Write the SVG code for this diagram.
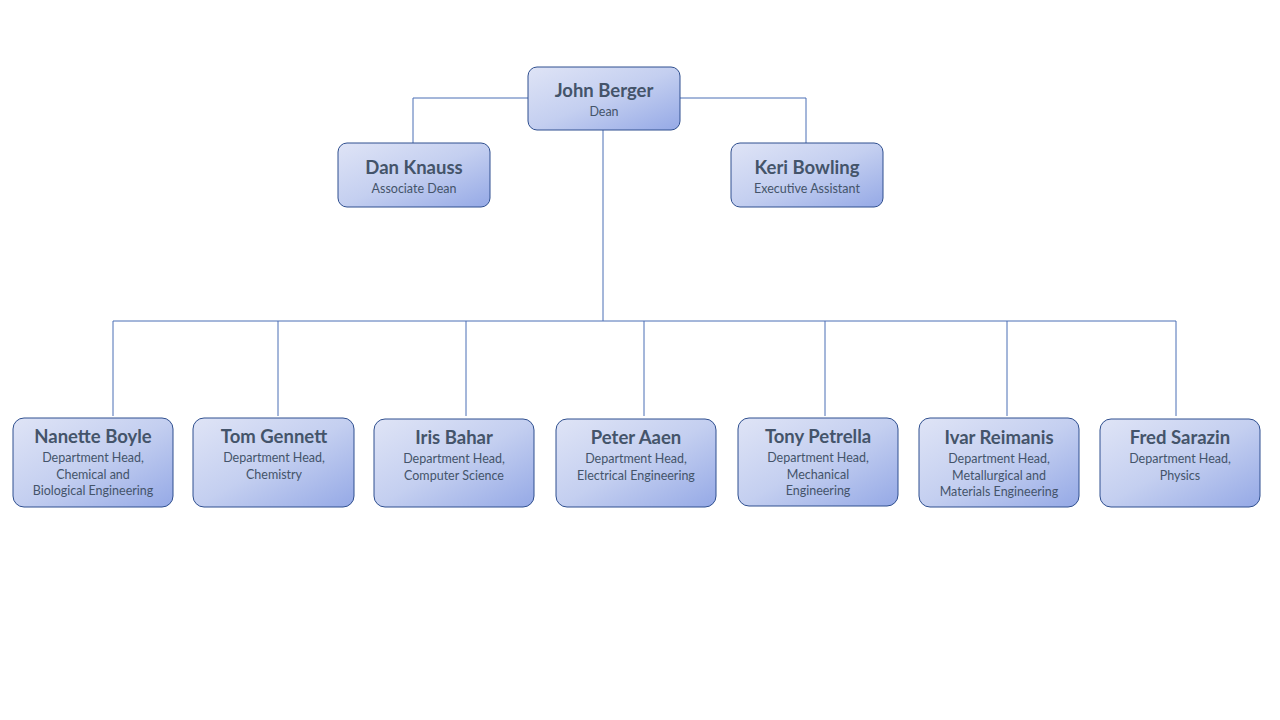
<svg xmlns="http://www.w3.org/2000/svg" width="1280" height="720" viewBox="0 0 1280 720">
<defs>
<linearGradient id="g" x1="0" y1="0" x2="1" y2="1">
<stop offset="0" stop-color="#dfe4f6"/><stop offset="0.5" stop-color="#c4cff0"/><stop offset="1" stop-color="#95a9e6"/>
</linearGradient>
</defs>
<style>
.b{fill:url(#g);stroke:#2f4f8f;stroke-width:1}
.n{font-family:Lato,"Open Sans",sans-serif;font-weight:bold;font-size:18.5px;fill:#44546a;text-anchor:middle}
.s{font-family:Lato,"Open Sans",sans-serif;font-size:12.5px;fill:#44546a;text-anchor:middle}
.c{stroke:#4a6fb5;stroke-width:1;fill:none}
</style>
<rect width="1280" height="720" fill="#fff"/>
<g id="connectors">
<path class="c" d="M528 98H413V143M680 98H806V143M603 130V321M113 321H1176M113 321V416M278 321V416M466 321V416M644 321V416M825 321V416M1007 321V416M1176 321V416"/>
</g>
<g id="n1"><rect class="b" x="528" y="67" width="152" height="63" rx="9"/><text class="n" x="604" y="97">John Berger</text><text class="s" x="604" y="116">Dean</text></g>
<g id="n2"><rect class="b" x="338" y="143" width="152" height="64" rx="9"/><text class="n" x="414" y="174">Dan Knauss</text><text class="s" x="414" y="193">Associate Dean</text></g>
<g id="n3"><rect class="b" x="731" y="143" width="152" height="64" rx="9"/><text class="n" x="807" y="174">Keri Bowling</text><text class="s" x="807" y="193">Executive Assistant</text></g>
<g id="n4"><rect class="b" x="13" y="418" width="160" height="89" rx="11"/><text class="n" x="93" y="443">Nanette Boyle</text><text class="s" x="93" y="462">Department Head,</text><text class="s" x="93" y="479">Chemical and</text><text class="s" x="93" y="495">Biological Engineering</text></g>
<g id="n5"><rect class="b" x="193" y="418" width="161" height="89" rx="11"/><text class="n" x="274" y="443">Tom Gennett</text><text class="s" x="274" y="462">Department Head,</text><text class="s" x="274" y="479">Chemistry</text></g>
<g id="n6"><rect class="b" x="374" y="419" width="160" height="88" rx="11"/><text class="n" x="454" y="444">Iris Bahar</text><text class="s" x="454" y="463">Department Head,</text><text class="s" x="454" y="480">Computer Science</text></g>
<g id="n7"><rect class="b" x="556" y="419" width="160" height="88" rx="11"/><text class="n" x="636" y="444">Peter Aaen</text><text class="s" x="636" y="463">Department Head,</text><text class="s" x="636" y="480">Electrical Engineering</text></g>
<g id="n8"><rect class="b" x="738" y="418" width="160" height="88" rx="11"/><text class="n" x="818" y="443">Tony Petrella</text><text class="s" x="818" y="462">Department Head,</text><text class="s" x="818" y="479">Mechanical</text><text class="s" x="818" y="495">Engineering</text></g>
<g id="n9"><rect class="b" x="919" y="418" width="160" height="89" rx="11"/><text class="n" x="999" y="444">Ivar Reimanis</text><text class="s" x="999" y="463">Department Head,</text><text class="s" x="999" y="480">Metallurgical and</text><text class="s" x="999" y="496">Materials Engineering</text></g>
<g id="n10"><rect class="b" x="1100" y="419" width="160" height="88" rx="11"/><text class="n" x="1180" y="444">Fred Sarazin</text><text class="s" x="1180" y="463">Department Head,</text><text class="s" x="1180" y="480">Physics</text></g>
</svg>
